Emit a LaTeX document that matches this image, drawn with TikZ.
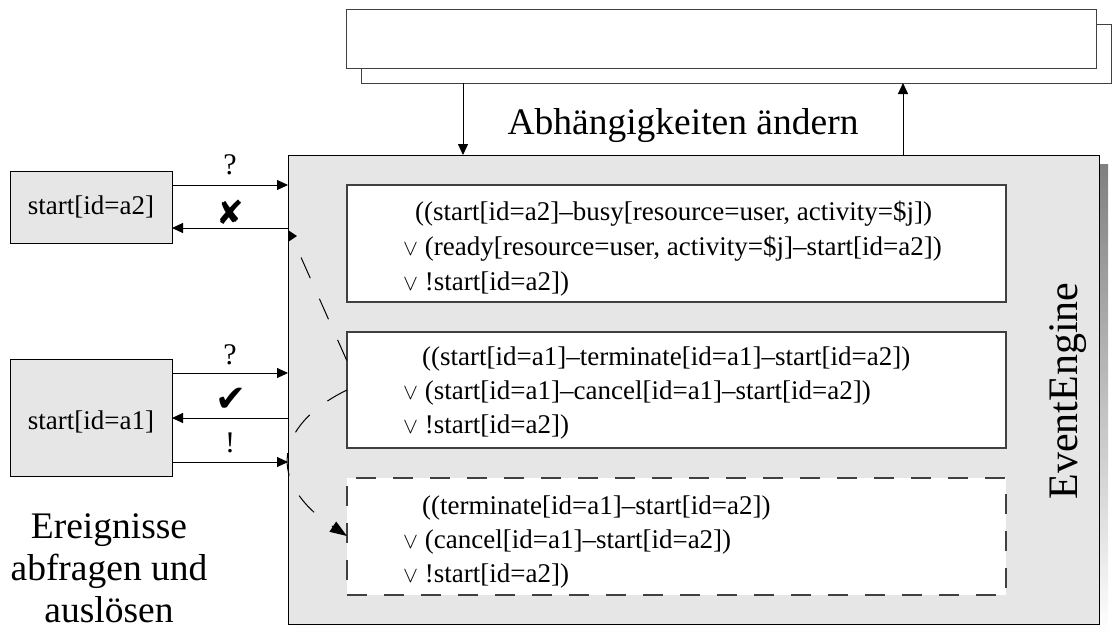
\documentclass[tikz,border=0pt]{standalone}
\usepackage{fontspec}
\setmainfont{Liberation Serif}
\newfontfamily\symbolfont{DejaVu Sans}
\usetikzlibrary{arrows.meta}
\definecolor{panel}{HTML}{E6E6E6}
\definecolor{shade}{HTML}{808080}
\definecolor{frame}{HTML}{404040}
\newcommand\orsym{\scalebox{0.9}{$\vee$}\ }
\begin{document}
\begin{tikzpicture}[x=1pt,y=-1pt,
  box/.style={inner sep=0pt, outer sep=0pt, anchor=north west, line width=1pt},
  topbox/.style={box, draw=frame, fill=white},
  mainbox/.style={box, draw=black, fill=panel},
  evbox/.style={box, draw=black, fill=panel},
  inbox/.style={box, draw=frame, fill=white, line width=1.2pt},
  dashbox/.style={box, draw=frame, fill=white, line width=1.3pt, dash pattern=on 20pt off 17pt},
  arr/.style={line width=1pt, -{Triangle[length=11pt,width=10pt]}},
  flow/.style={line width=1pt, dash pattern=on 22.5pt off 22.5pt},
  formula/.style={inner sep=0pt, anchor=base west, font=\fontsize{27pt}{27pt}\selectfont},
  label/.style={inner sep=0pt, font=\fontsize{27pt}{27pt}\selectfont},
  sign/.style={inner sep=0pt, font=\fontsize{30pt}{30pt}\selectfont},
  tick/.style={inner sep=0pt, font=\symbolfont\fontsize{33pt}{33pt}\selectfont},
  big/.style={inner sep=0pt, font=\fontsize{37.5pt}{42pt}\selectfont}
]
\useasboundingbox (0,0) rectangle (1112,633);

% stacked boxes at the top
\node[topbox, minimum width=750pt, minimum height=59pt] (back) at (361,24) {};
\node[topbox, minimum width=750pt, minimum height=59pt] (front) at (346,9) {};

% event engine with its shadow
\fill[shade] (297,164) rectangle (1108,633);
\node[mainbox, minimum width=811pt, minimum height=469pt] (main) at (288,155) {};
\node[rotate=90, inner sep=0pt, font=\fontsize{42pt}{42pt}\selectfont] (ee) at (1068,391) {EventEngine};

% rule boxes
\node[inbox, minimum width=659pt, minimum height=117pt] (b1) at (347,185) {};
\node[inbox, minimum width=659pt, minimum height=116pt] (b2) at (347,332) {};
\node[dashbox, minimum width=659pt, minimum height=117pt] (b3) at (347,478) {};

\node[formula] (f11) at (415,220) {((start[id=a2]–busy[resource=user, activity=\$j])};
\node[formula] (f12) at (403,255) {\orsym(ready[resource=user, activity=\$j]–start[id=a2])};
\node[formula] (f13) at (403,290) {\orsym!start[id=a2])};

\node[formula] (f21) at (422,365) {((start[id=a1]–terminate[id=a1]–start[id=a2])};
\node[formula] (f22) at (403,399) {\orsym(start[id=a1]–cancel[id=a1]–start[id=a2])};
\node[formula] (f23) at (403,433) {\orsym!start[id=a2])};

\node[formula] (f31) at (422,514) {((terminate[id=a1]–start[id=a2])};
\node[formula] (f32) at (403,548) {\orsym(cancel[id=a1]–start[id=a2])};
\node[formula] (f33) at (403,582) {\orsym!start[id=a2])};

% arrows between the top boxes and the engine
\coordinate (xd) at (463,0);
\coordinate (xu) at (903,0);
\draw[arr] (back.south -| xd) -- (main.north -| xd);
\draw[arr] (main.north -| xu) -- (back.south -| xu);
\node[big, anchor=base] (deps) at (683,134) {Abhängigkeiten ändern};

% event boxes on the left
\node[evbox, minimum width=162pt, minimum height=72pt] (s2) at (10,171) {};
\node[label] (s2t) at (s2.center) {start[id=a2]};
\node[evbox, minimum width=162pt, minimum height=117pt] (s1) at (10,359) {};
\node[label] (s1t) at ([yshift=-4pt]s1.center) {start[id=a1]};

\coordinate (r1) at (0,185);
\coordinate (r2) at (0,228);
\coordinate (r3) at (0,373);
\coordinate (r4) at (0,418);
\coordinate (r5) at (0,462);
\draw[arr] (s2.east |- r1) -- (main.west |- r1);
\draw[arr] (main.west |- r2) -- (s2.east |- r2);
\draw[arr] (s1.east |- r3) -- (main.west |- r3);
\draw[arr] (main.west |- r4) -- (s1.east |- r4);
\draw[arr] (s1.east |- r5) -- (main.west |- r5);

\node[sign] (q1) at (230,165) {?};
\node[tick] (no) at (230,212) {✘};
\node[sign] (q2) at (230,355) {?};
\node[tick, font=\symbolfont\fontsize{37pt}{37pt}\selectfont] (yes) at (231,400) {✔};
\node[sign] (fire) at (230,443) {!};

\node[big, align=center] (caption) at (109,568) {Ereignisse\\abfragen und\\auslösen};

% dependency traces inside the engine
\coordinate (d1) at (292,237);
\coordinate (y1) at (0,361);
\coordinate (y2) at (0,390);
\coordinate (y3) at (0,536);
\fill (288,230) -- (297,236) -- (288,242) -- cycle;
\draw[flow, dash phase=22.5pt] (d1) -- (b2.west |- y1);
\draw[flow, -{Triangle[length=17pt,width=12pt]}] (b2.west |- y2) .. controls (275,425) and (265,482) .. (b3.west |- y3);
\end{tikzpicture}
\end{document}
